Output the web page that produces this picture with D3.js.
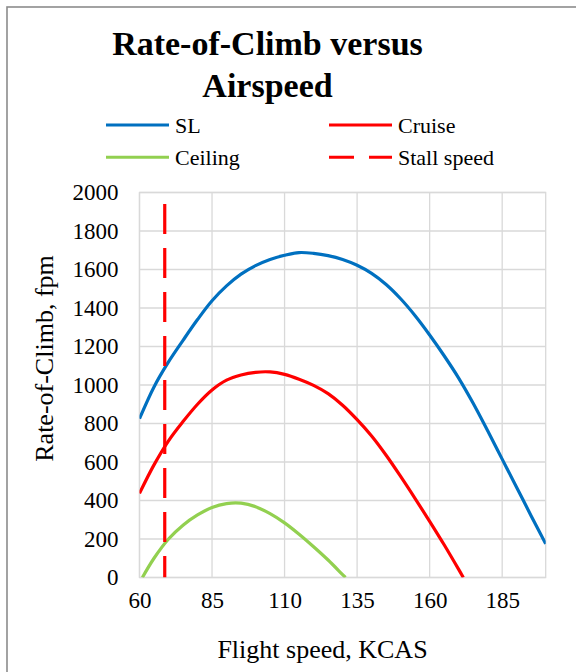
<!DOCTYPE html>
<html>
<head>
<meta charset="utf-8">
<script src="https://cdn.jsdelivr.net/npm/d3@7"></script>
<style>
  body { margin: 0; background: #fff; }
  svg text { font-family: "Liberation Serif", "Times New Roman", serif; }
</style>
</head>
<body>
<div id="climbChart"></div>
<script>
// values
const speedSL = [60, 65, 70, 75, 80, 85, 90, 95, 100, 105, 110, 115, 120, 125, 130, 135, 140, 145, 150, 155, 160, 165, 170, 175, 180, 185, 190, 195, 200];
const rocSL = [825, 990, 1120, 1232, 1340, 1438, 1515, 1576, 1620, 1652, 1674, 1688, 1684, 1672, 1652, 1622, 1580, 1522, 1448, 1360, 1260, 1152, 1036, 905, 762, 615, 468, 320, 175];

const speedCruise = [60, 65, 70, 75, 80, 85, 90, 95, 100, 105, 110, 115, 120, 125, 130, 135, 140, 145, 150, 155, 160, 165, 170, 171.6];
const rocCruise = [437, 585, 710, 810, 900, 974, 1025, 1052, 1066, 1068, 1055, 1030, 998, 955, 895, 820, 735, 635, 525, 410, 292, 170, 42, 0];

const speedCeiling = [61, 65, 70, 75, 80, 85, 90, 95, 100, 105, 110, 115, 120, 125, 130, 131];
const rocCeiling = [0, 100, 200, 272, 325, 364, 384, 386, 368, 332, 284, 225, 160, 91, 15, 0];

const speedStall = [68.7, 68.7];
const rocStall = [1940, 0];

const xTicks = [60, 85, 110, 135, 160, 185];
const yTicks = [0, 200, 400, 600, 800, 1000, 1200, 1400, 1600, 1800, 2000];

const seriesNames = ['SL', 'Cruise', 'Ceiling', 'Stall speed'];

const serif = '"Liberation Serif", "Times New Roman", serif';

class ClimbChart {
  constructor () {
    this.width = 576;
    this.height = 672;
    this.plot = {left: 139.5, right: 545.7, top: 192.5, bottom: 577.5};
    this.series = [
      {name: seriesNames[0], x: speedSL, y: rocSL, color: '#0070C0', dash: null},
      {name: seriesNames[1], x: speedCruise, y: rocCruise, color: '#FF0000', dash: null},
      {name: seriesNames[2], x: speedCeiling, y: rocCeiling, color: '#92D050', dash: null},
      {name: seriesNames[3], x: speedStall, y: rocStall, color: '#FF0000', dash: '30,14'}
    ];
  }

  render () {
    this.svg = d3.select('#climbChart')
      .append('svg')
      .attr('width', this.width)
      .attr('height', this.height)
      .attr('font-family', serif);

    // outer chart border (only left/top visible in the crop)
    this.svg.append('rect')
      .attr('x', 7).attr('y', 7)
      .attr('width', this.width + 20).attr('height', this.height + 20)
      .attr('fill', '#fff')
      .attr('stroke', '#8c8c8c')
      .attr('stroke-width', 1.6);

    this.xScale = d3.scaleLinear().domain([60, 200]).range([this.plot.left, this.plot.right]);
    this.yScale = d3.scaleLinear().domain([0, 2000]).range([this.plot.bottom, this.plot.top]);

    this.drawTitle();
    this.drawLegend();
    this.drawGrid();
    this.drawAxes();
    this.drawLines();
  }

  drawTitle () {
    const t = this.svg.append('text')
      .attr('text-anchor', 'middle')
      .attr('font-size', 34)
      .attr('font-weight', 'bold')
      .attr('fill', '#000');
    t.append('tspan').attr('x', 267.5).attr('y', 54.5).text('Rate-of-Climb versus');
    t.append('tspan').attr('x', 267.5).attr('y', 97).text('Airspeed');
  }

  drawLegend () {
    const spots = [
      {x: 106, y: 125}, {x: 329, y: 125},
      {x: 106, y: 157.3}, {x: 329, y: 157.3}
    ];
    const g = this.svg.append('g').attr('class', 'c-legend');
    this.series.forEach((s, i) => {
      const p = spots[i];
      g.append('line')
        .attr('x1', p.x).attr('x2', p.x + 63)
        .attr('y1', p.y).attr('y2', p.y)
        .attr('stroke', s.color)
        .attr('stroke-width', 3)
        .attr('stroke-dasharray', s.dash ? '25,15' : null);
      g.append('text')
        .attr('x', p.x + 69)
        .attr('y', p.y + 7.5)
        .attr('font-size', 22)
        .text(s.name);
    });
  }

  drawGrid () {
    const g = this.svg.append('g').attr('class', 'c-grid');
    g.selectAll('.hgrid')
      .data(yTicks)
      .enter()
      .append('line')
      .attr('x1', this.plot.left).attr('x2', this.plot.right)
      .attr('y1', (d) => this.yScale(d)).attr('y2', (d) => this.yScale(d))
      .attr('stroke', '#d9d9d9').attr('stroke-width', 1.3);
    g.selectAll('.vgrid')
      .data(xTicks)
      .enter()
      .append('line')
      .attr('x1', (d) => this.xScale(d)).attr('x2', (d) => this.xScale(d))
      .attr('y1', this.plot.top).attr('y2', this.plot.bottom)
      .attr('stroke', '#d9d9d9').attr('stroke-width', 1.3);
    g.append('rect')
      .attr('x', this.plot.left).attr('y', this.plot.top)
      .attr('width', this.plot.right - this.plot.left)
      .attr('height', this.plot.bottom - this.plot.top)
      .attr('fill', 'none')
      .attr('stroke', '#d9d9d9').attr('stroke-width', 1.3);
  }

  drawAxes () {
    const fmt = d3.format('d');
    const xAxis = d3.axisBottom(this.xScale).tickValues(xTicks).tickFormat(fmt).tickSize(0).tickPadding(14);
    const yAxis = d3.axisLeft(this.yScale).tickValues(yTicks).tickFormat(fmt).tickSize(0).tickPadding(21);

    const gx = this.svg.append('g')
      .attr('class', 'c-axis')
      .attr('transform', 'translate(0,' + this.plot.bottom + ')')
      .call(xAxis);
    const gy = this.svg.append('g')
      .attr('class', 'c-axis')
      .attr('transform', 'translate(' + this.plot.left + ',0)')
      .call(yAxis);

    [gx, gy].forEach((g) => {
      g.attr('font-family', serif).attr('font-size', 23);
      g.select('.domain').remove();
      g.selectAll('text').attr('fill', '#000');
    });

    this.svg.append('text')
      .attr('x', 322.5).attr('y', 658.3)
      .attr('text-anchor', 'middle')
      .attr('font-size', 26)
      .text('Flight speed, KCAS');

    this.svg.append('text')
      .attr('transform', 'translate(52.5,358.5) rotate(-90)')
      .attr('text-anchor', 'middle')
      .attr('font-size', 26)
      .text('Rate-of-Climb, fpm');
  }

  drawLines () {
    this.svg.append('clipPath').attr('id', 'plotClip')
      .append('rect')
      .attr('x', this.plot.left).attr('y', this.plot.top - 2)
      .attr('width', this.plot.right - this.plot.left)
      .attr('height', this.plot.bottom - this.plot.top + 2);

    const smooth = d3.line()
      .x((d) => this.xScale(d[0]))
      .y((d) => this.yScale(d[1]))
      .curve(d3.curveCatmullRom.alpha(0.5));
    const straight = d3.line()
      .x((d) => this.xScale(d[0]))
      .y((d) => this.yScale(d[1]));

    const g = this.svg.append('g').attr('clip-path', 'url(#plotClip)');
    this.series.forEach((s) => {
      const pts = s.x.map((v, i) => [v, s.y[i]]);
      g.append('path')
        .attr('d', s.dash ? straight(pts) : smooth(pts))
        .attr('fill', 'none')
        .attr('stroke', s.color)
        .attr('stroke-width', 3.2)
        .attr('stroke-dasharray', s.dash);
    });
  }
}

new ClimbChart().render();
</script>
</body>
</html>
